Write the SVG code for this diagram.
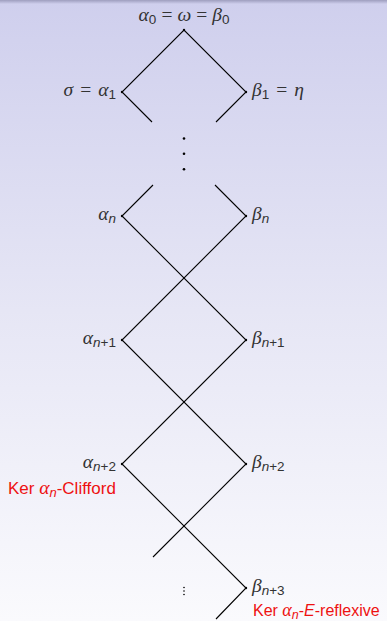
<svg xmlns="http://www.w3.org/2000/svg" width="387" height="621" viewBox="0 0 387 621">
  <defs>
    <linearGradient id="bg" x1="0" y1="0" x2="0" y2="1">
      <stop offset="0" stop-color="#cfcfed"/>
      <stop offset="0.5" stop-color="#e6e6f5"/>
      <stop offset="1" stop-color="#fafafd"/>
    </linearGradient>
    <linearGradient id="topbar" x1="0" y1="0" x2="0" y2="1">
      <stop offset="0" stop-color="#9e9ebe"/>
      <stop offset="1" stop-color="#cfcfed"/>
    </linearGradient>
    <style>
      .edge { stroke: #000; stroke-width: 1.1; fill: none; stroke-linecap: butt; }
      .pt { fill: #000; }
      .lbl { font-family: "Liberation Serif", "DejaVu Serif", serif; font-size: 19.5px; fill: #333; }
      .g { font-style: italic; }
      .sub { font-family: "Liberation Sans", "DejaVu Sans", sans-serif; font-size: 13.5px; }
      .it { font-style: italic; }
      .red { font-family: "Liberation Sans", "DejaVu Sans", sans-serif; font-size: 17px; fill: #ee1111; }
      .redm { font-family: "Liberation Serif", "DejaVu Serif", serif; font-style: italic; font-size: 19.5px; }
      .rsub { font-style: italic; font-size: 13px; }
      .small { font-size: 16px; }
      .small .redm { font-size: 18px; }
      .small .rsub { font-size: 12.5px; }
    </style>
  </defs>

  <rect x="0" y="0" width="387" height="621" fill="url(#bg)"/>
  <rect x="0" y="0" width="387" height="4" fill="url(#topbar)"/>

  <!-- lattice edges -->
  <g id="connectors">
    <polyline class="edge" points="152,122 122,92 184,30 246,92 216,122"/>
    <polyline class="edge" points="153,185 122,216 246,340 122,464 246,588 216,619"/>
    <polyline class="edge" points="215,185 246,216 122,340 246,464 153,557"/>
  </g>

  <!-- vertical ellipsis between the top and the middle -->
  <g id="dots-mid" class="pt">
    <circle cx="184" cy="138.5" r="1.3"/>
    <circle cx="184" cy="153.7" r="1.3"/>
    <circle cx="184" cy="169.3" r="1.3"/>
  </g>

  <g id="top">
    <circle class="pt" cx="184" cy="30" r="1.2"/>
    <text class="lbl" x="184" y="21" text-anchor="middle"><tspan class="g">α</tspan><tspan class="sub" dy="3">0</tspan><tspan dy="-3" dx="5">=</tspan><tspan class="g" dx="5">ω</tspan><tspan dx="5">=</tspan><tspan class="g" dx="5">β</tspan><tspan class="sub" dy="3">0</tspan></text>
  </g>

  <g id="alpha1">
    <circle class="pt" cx="122" cy="92" r="1.2"/>
    <text class="lbl" x="116" y="96" text-anchor="end"><tspan class="g">σ</tspan><tspan dx="7">=</tspan><tspan class="g" dx="7">α</tspan><tspan class="sub" dy="3">1</tspan></text>
  </g>
  <g id="beta1">
    <circle class="pt" cx="246" cy="92" r="1.2"/>
    <text class="lbl" x="252" y="96"><tspan class="g">β</tspan><tspan class="sub" dy="3">1</tspan><tspan dy="-3" dx="7">=</tspan><tspan class="g" dx="7">η</tspan></text>
  </g>

  <g id="alphan">
    <circle class="pt" cx="122" cy="216" r="1.2"/>
    <text class="lbl" x="116" y="220" text-anchor="end"><tspan class="g">α</tspan><tspan class="sub it" dy="3">n</tspan></text>
  </g>
  <g id="betan">
    <circle class="pt" cx="246" cy="216" r="1.2"/>
    <text class="lbl" x="252" y="220"><tspan class="g">β</tspan><tspan class="sub it" dy="3">n</tspan></text>
  </g>

  <g id="alphan1">
    <circle class="pt" cx="122" cy="340" r="1.2"/>
    <text class="lbl" x="116" y="344" text-anchor="end"><tspan class="g">α</tspan><tspan class="sub" dy="3"><tspan class="it">n</tspan>+1</tspan></text>
  </g>
  <g id="betan1">
    <circle class="pt" cx="246" cy="340" r="1.2"/>
    <text class="lbl" x="252" y="344"><tspan class="g">β</tspan><tspan class="sub" dy="3"><tspan class="it">n</tspan>+1</tspan></text>
  </g>

  <g id="alphan2">
    <circle class="pt" cx="122" cy="464" r="1.2"/>
    <text class="lbl" x="116" y="468" text-anchor="end"><tspan class="g">α</tspan><tspan class="sub" dy="3"><tspan class="it">n</tspan>+2</tspan></text>
    <text class="red" x="8" y="494"><tspan>Ker </tspan><tspan class="redm">α</tspan><tspan class="rsub" dy="3">n</tspan><tspan dy="-3">-Clifford</tspan></text>
  </g>
  <g id="betan2">
    <circle class="pt" cx="246" cy="464" r="1.2"/>
    <text class="lbl" x="252" y="468"><tspan class="g">β</tspan><tspan class="sub" dy="3"><tspan class="it">n</tspan>+2</tspan></text>
  </g>

  <g id="betan3">
    <circle class="pt" cx="246" cy="588" r="1.2"/>
    <text class="lbl" x="252" y="592"><tspan class="g">β</tspan><tspan class="sub" dy="3"><tspan class="it">n</tspan>+3</tspan></text>
    <text class="red small" x="253" y="616"><tspan>Ker </tspan><tspan class="redm">α</tspan><tspan class="rsub" dy="2.5">n</tspan><tspan dy="-2.5">-</tspan><tspan class="it">E</tspan><tspan>-reflexive</tspan></text>
  </g>

  <!-- small vertical ellipsis at the bottom -->
  <g id="dots-bottom" class="pt">
    <circle cx="184" cy="587.5" r="0.8"/>
    <circle cx="184" cy="591" r="0.8"/>
    <circle cx="184" cy="594.5" r="0.8"/>
  </g>
</svg>
